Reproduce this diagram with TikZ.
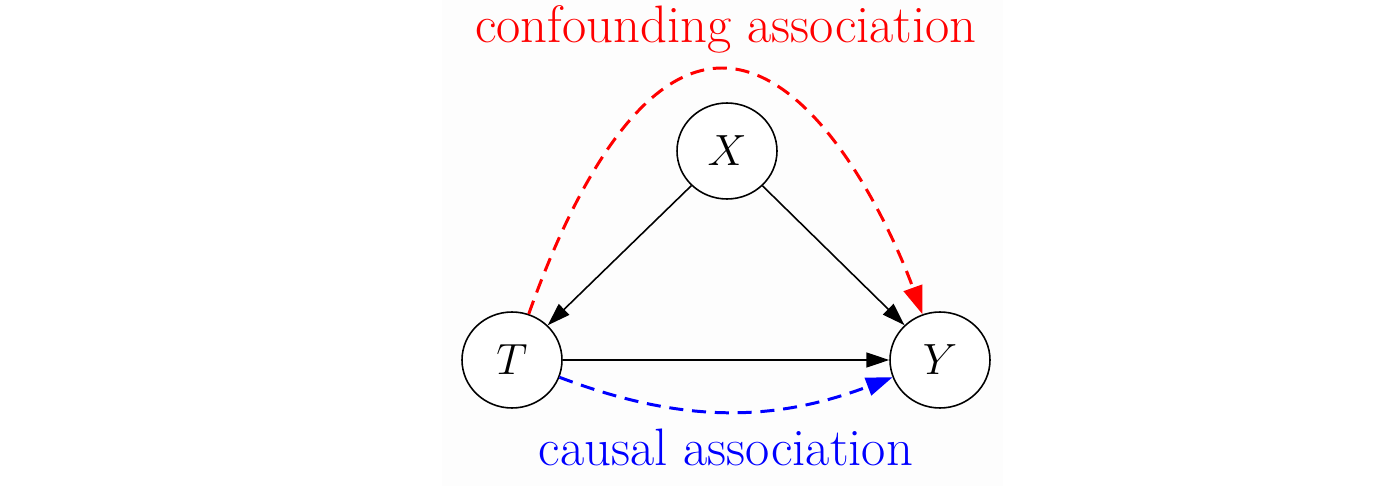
\documentclass[tikz,border=0pt]{standalone}
\usepackage{xcolor}
\usepackage{amsmath}
\usepackage{tikz}
\usetikzlibrary{arrows.meta,positioning,shapes.geometric}
\definecolor{paper}{HTML}{FDFDFD}
\definecolor{confred}{HTML}{FF0000}
\definecolor{causblue}{HTML}{0000FF}
\tikzset{
  var/.style={ellipse, draw=black, fill=white, line width=0.9pt, inner sep=0pt,
              minimum width=2cm, minimum height=1.92cm, font=\fontsize{30}{35}\selectfont},
  lbl/.style={font=\fontsize{30}{35}\selectfont, anchor=base, inner sep=0pt},
  flow/.style={-{Triangle[length=13pt, width=8.5pt]}, draw=black, line width=0.9pt},
  confflow/.style={-{Triangle[length=16pt, width=11pt]}, draw=confred, line width=1.7pt,
                   dash pattern=on 8pt off 5pt},
  causflow/.style={-{Triangle[length=15pt, width=10.5pt]}, draw=causblue, line width=1.7pt,
                   dash pattern=on 8pt off 5pt}
}
\begin{document}
\begin{tikzpicture}[x=0.02cm, y=-0.02cm]
   \useasboundingbox (0,0) rectangle (1400,486);
   \fill[paper] (442,0) rectangle (1003,486);
   % variables
   \node[var] (x) at (727,151) {$X$};
   \node[var] (t) at (512,360) {$T$};
   \node[var] (y) at (940,360) {$Y$};
   % labels
   \node[lbl, text=confred] (conf) at (726,43) {confounding association};
   \node[lbl, text=causblue] (caus) at (726,465) {causal association};
   % edges
   \draw[flow] (x) -- (t);
   \draw[flow] (x) -- (y);
   \draw[flow] (t) -- (y);
   \coordinate (peak) at (722,68);
   \draw[confflow] (t.70) .. controls (565,212) and (632,68) .. (peak)
                          .. controls (820,68) and (895,238) .. (y.111);
   \draw[causflow] (t.-20) .. controls (680,423) and (772,423) .. (y.200);
  \end{tikzpicture}
\end{document}
